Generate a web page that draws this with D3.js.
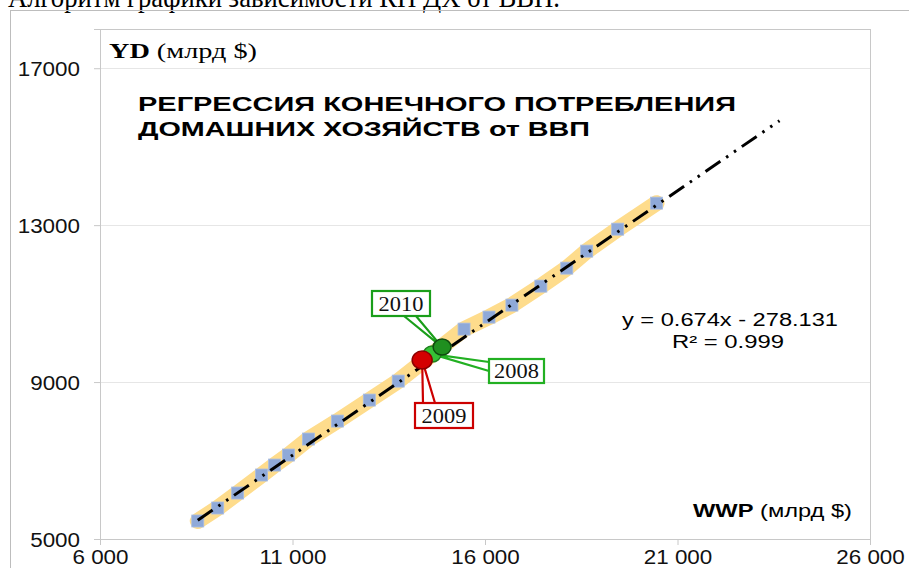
<!DOCTYPE html>
<html>
<head>
<meta charset="utf-8">
<script src="https://cdn.jsdelivr.net/npm/d3@7"></script>
<style>
  body { margin: 0; background: #fff; }
  svg { display: block; }
</style>
</head>
<body>
<div id="chart"></div>
<script>
// WWP (x) and YD (y), bn $
const gdp = [8539, 9057, 9575, 10197, 10534, 10896, 11415, 12166, 12995, 13746,
             15456, 16104, 16699, 17451, 18124, 18642, 19446, 20456];
const cons = [5459, 5790, 6172, 6631, 6885, 7140, 7548, 8006, 8541, 9025,
              10350, 10656, 10962, 11446, 11904, 12338, 12898, 13561];

// highlighted years
const hlYears = ["2008", "2010", "2009"];
const hlX = [14627, 14886, 14368];
const hlY = [9713, 9892, 9561];

const slope = 0.674, intercept = -278.131;
const trendX = [8539, 23650];

const xTicks = [6000, 11000, 16000, 21000, 26000];
const yTicks = [5000, 9000, 13000, 17000];

const width = 909, height = 568;
const sans = "'Liberation Sans', Arial, sans-serif";
const serif = "'Liberation Serif', 'Times New Roman', serif";

// the source picture is a bit wider than tall, so stretch text horizontally
function stretch(sel, k) {
    sel.each(function() {
        const w = this.getComputedTextLength();
        d3.select(this).attr("textLength", w * k).attr("lengthAdjust", "spacingAndGlyphs");
    });
}

const svg = d3.select("#chart").append("svg")
    .attr("width", width)
    .attr("height", height);

// cut-off caption from the page above
svg.append("text")
    .attr("x", 8).attr("y", 7)
    .attr("font-family", serif).attr("font-size", 30)
    .attr("textLength", 552).attr("lengthAdjust", "spacingAndGlyphs")
    .text("Алгоритм графики зависимости КП ДХ от ВВП.");

// outer frame
svg.append("rect")
    .attr("x", 10.5).attr("y", 10.5)
    .attr("width", 920).attr("height", 600)
    .attr("fill", "none").attr("stroke", "#bdbdbd");

const x = d3.scaleLinear().domain([6000, 26000]).range([100, 870]);
const y = d3.scaleLinear().domain([5000, 18000]).range([539, 29]);

// grid
svg.append("g")
    .selectAll("line")
    .data(yTicks.slice(1))
    .join("line")
    .attr("x1", x(6000)).attr("x2", x(26000))
    .attr("y1", d => Math.round(y(d)) + 0.5).attr("y2", d => Math.round(y(d)) + 0.5)
    .attr("stroke", "#e6e6e6");

// plot border
svg.append("rect")
    .attr("x", x(6000) + 0.5).attr("y", y(18000) + 0.5)
    .attr("width", x(26000) - x(6000)).attr("height", y(5000) - y(18000))
    .attr("fill", "none").attr("stroke", "#c8c8c8");

// axes
const xAxis = svg.append("g")
    .attr("transform", `translate(0,${y(5000)})`)
    .call(d3.axisBottom(x).tickValues(xTicks).tickSize(6).tickPadding(5)
        .tickFormat(d => d3.format(",")(d).replace(",", " ")));
const yAxis = svg.append("g")
    .attr("transform", `translate(${x(6000)},0)`)
    .call(d3.axisLeft(y).tickValues(yTicks).tickSize(6).tickPadding(14)
        .tickFormat(d3.format("d")));
[xAxis, yAxis].forEach(a => {
    a.select(".domain").attr("stroke", "#c8c8c8");
    a.selectAll(".tick line").attr("stroke", "#c8c8c8");
    a.selectAll(".tick text")
        .attr("font-family", sans).attr("font-size", 20).attr("fill", "#111")
        .call(stretch, 1.12);
});
yAxis.selectAll(".tick text").attr("dy", "0.36em");

// title
const title = svg.append("g")
    .attr("font-family", sans).attr("font-weight", "bold")
    .attr("font-size", 21).attr("fill", "#000");
title.append("text").attr("x", 138).attr("y", 111)
    .attr("textLength", 598).attr("lengthAdjust", "spacingAndGlyphs")
    .text("РЕГРЕССИЯ  КОНЕЧНОГО ПОТРЕБЛЕНИЯ");
title.append("text").attr("x", 138).attr("y", 136)
    .attr("textLength", 452).attr("lengthAdjust", "spacingAndGlyphs")
    .text("ДОМАШНИХ ХОЗЯЙСТВ от ВВП");

// axis titles
const yd = svg.append("text").attr("x", 109).attr("y", 58)
    .attr("font-family", serif).attr("font-size", 21)
    .attr("textLength", 148).attr("lengthAdjust", "spacingAndGlyphs");
yd.append("tspan").attr("font-weight", "bold").text("YD");
yd.append("tspan").text(" (млрд $)");

const ww = svg.append("text").attr("x", 693).attr("y", 517)
    .attr("font-family", sans).attr("font-size", 18)
    .attr("textLength", 159).attr("lengthAdjust", "spacingAndGlyphs");
ww.append("tspan").attr("font-weight", "bold").text("WWP");
ww.append("tspan").text(" (млрд $)");

// yellow band through the points
const pts = gdp.map((d, i) => [d, cons[i]]);
const line = d3.line().x(d => x(d[0])).y(d => y(d[1]));
svg.append("path")
    .datum(pts)
    .attr("d", line)
    .attr("fill", "none")
    .attr("stroke", "#fedc8c")
    .attr("stroke-width", 16)
    .attr("stroke-linecap", "round")
    .attr("stroke-linejoin", "round");

// square markers
svg.append("g")
    .selectAll("rect")
    .data(pts)
    .join("rect")
    .attr("x", d => x(d[0]) - 6).attr("y", d => y(d[1]) - 6)
    .attr("width", 12).attr("height", 12)
    .attr("fill", "#8fa9d8")
    .attr("stroke", "#a9bde3").attr("stroke-width", 0.8);

// trend line
svg.append("path")
    .datum(trendX.map(v => [v, slope * v + intercept]))
    .attr("d", line)
    .attr("fill", "none")
    .attr("stroke", "#000")
    .attr("stroke-width", 3)
    .attr("stroke-dasharray", "18 7 2.5 7 2.5 7");

// callouts
const boxes = [
    { x: 489, y: 359, w: 55, h: 24, color: "#22b022", p1: [489, 362], p2: [489, 371] },
    { x: 372, y: 291, w: 58, h: 25, color: "#1a9e1a", p1: [404, 316], p2: [416, 316] },
    { x: 415, y: 403, w: 58, h: 25, color: "#cc0000", p1: [423, 403], p2: [435, 403] }
];
const circleFill = ["#36c236", "#1f8f1f", "#d40000"];
const circleStroke = ["#1f7f1f", "#0f4a0f", "#8a0000"];

hlYears.forEach((yr, i) => {
    const b = boxes[i];
    const cx = x(hlX[i]), cy = y(hlY[i]);
    svg.append("path")
        .attr("d", `M${b.p1[0]},${b.p1[1]}L${cx},${cy}L${b.p2[0]},${b.p2[1]}`)
        .attr("fill", "#fff").attr("stroke", b.color).attr("stroke-width", 2.2);
});

// circles: 2008, 2010, then 2009 on top
hlYears.forEach((yr, i) => {
    svg.append("ellipse")
        .attr("cx", x(hlX[i])).attr("cy", y(hlY[i]))
        .attr("rx", i === 2 ? 10 : 9).attr("ry", i === 2 ? 9 : 8)
        .attr("fill", circleFill[i])
        .attr("stroke", circleStroke[i]).attr("stroke-width", 1.5);
});

hlYears.forEach((yr, i) => {
    const b = boxes[i];
    svg.append("rect")
        .attr("x", b.x).attr("y", b.y).attr("width", b.w).attr("height", b.h)
        .attr("fill", "#fff").attr("stroke", b.color).attr("stroke-width", 2.2);
    svg.append("text")
        .attr("x", b.x + b.w / 2).attr("y", b.y + b.h / 2 + 7)
        .attr("text-anchor", "middle")
        .attr("font-family", serif).attr("font-size", 20).attr("fill", "#111")
        .text(yr)
        .call(stretch, 1.12);
});

// regression equation
const eq = svg.append("g").attr("font-family", sans).attr("font-size", 18).attr("fill", "#000");
eq.append("text").attr("x", 730).attr("y", 326).attr("text-anchor", "middle")
    .text(`y = ${slope}x - ${Math.abs(intercept)}`)
    .attr("textLength", 216).attr("lengthAdjust", "spacingAndGlyphs");
eq.append("text").attr("x", 728).attr("y", 348).attr("text-anchor", "middle")
    .text("R² = 0.999")
    .attr("textLength", 112).attr("lengthAdjust", "spacingAndGlyphs");
</script>
</body>
</html>
